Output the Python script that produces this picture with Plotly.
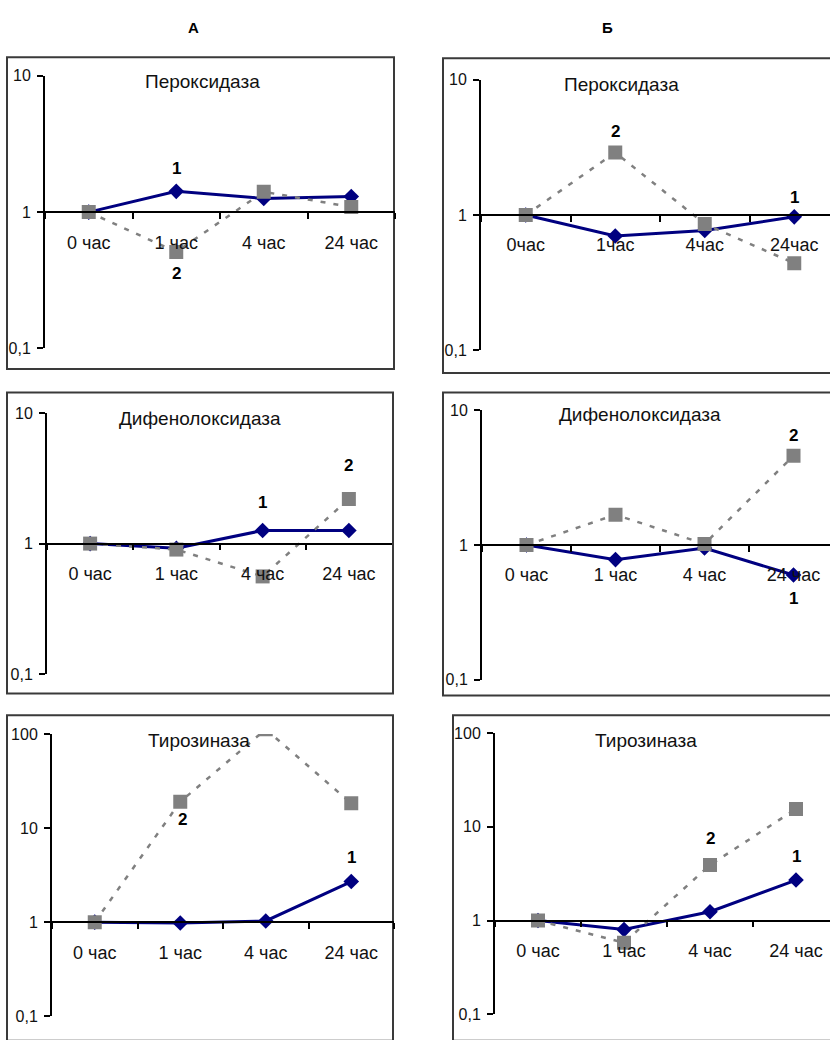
import math
import plotly.graph_objects as go

W, H = 830, 1040

# ---------------- data ----------------
times = ["0 час", "1 час", "4 час", "24 час"]
times_compact = ["0час", "1час", "4час", "24час"]
titles = ["Пероксидаза", "Пероксидаза", "Дифенолоксидаза", "Дифенолоксидаза",
          "Тирозиназа", "Тирозиназа"]
column_labels = ["А", "Б"]
y_ticks_small = [0.1, 1, 10]
y_ticks_small_text = ["0,1", "1", "10"]
y_ticks_big = [0.1, 1, 10, 100]
y_ticks_big_text = ["0,1", "1", "10", "100"]

perox_A_1 = [1.0, 1.42, 1.26, 1.30]
perox_A_2 = [1.0, 0.51, 1.41, 1.09]
perox_B_1 = [1.0, 0.70, 0.77, 0.97]
perox_B_2 = [1.0, 2.9, 0.86, 0.44]
diph_A_1 = [1.0, 0.92, 1.26, 1.26]
diph_A_2 = [1.0, 0.90, 0.56, 2.2]
diph_B_1 = [1.0, 0.78, 0.95, 0.60]
diph_B_2 = [1.0, 1.68, 1.02, 4.6]
tyr_A_1 = [1.0, 0.98, 1.03, 2.7]
tyr_A_2 = [1.0, 19.0, 112.0, 18.3]
tyr_B_1 = [1.0, 0.80, 1.24, 2.7]
tyr_B_2 = [1.0, 0.58, 3.9, 15.5]

series = [
    (perox_A_1, perox_A_2),
    (perox_B_1, perox_B_2),
    (diph_A_1, diph_A_2),
    (diph_B_1, diph_B_2),
    (tyr_A_1, tyr_A_2),
    (tyr_B_1, tyr_B_2),
]
panel_times = [times, times_compact, times, times, times, times]

# ---------------- layout (pixels) ----------------
panels = [
    dict(x0=45, cw=87.5, ytop=69, ybot=346, yr=(-1, 1), frame=(7, 50, 394, 367), tx=202, ty=75),
    dict(x0=481, cw=89.5, ytop=73, ybot=348, yr=(-1, 1), frame=(443, 51, 845, 371), tx=621, ty=78),
    dict(x0=47, cw=86.25, ytop=412, ybot=677, yr=(-1, 1), frame=(7, 391, 393, 697), tx=200, ty=417),
    dict(x0=482, cw=89, ytop=409, ybot=683, yr=(-1, 1), frame=(443, 391, 845, 699), tx=640, ty=413),
    dict(x0=52, cw=85.5, ytop=738, ybot=1025, yr=(-1, 2), frame=(7, 719, 393, 1050), tx=199, ty=745),
    dict(x0=495, cw=86, ytop=737, ybot=1023, yr=(-1, 2), frame=(453, 719, 845, 1050), tx=646, ty=745),
]

# series-number labels: (panel, series index 0/1, point index, yshift, xshift)
num_labels = [
    (0, 0, 1, 23, 0), (0, 1, 1, -22, 0),
    (1, 1, 1, 21, 0), (1, 0, 3, 19, 0),
    (2, 0, 2, 28, 0), (2, 1, 3, 33, 0),
    (3, 1, 3, 20, 0), (3, 0, 3, -24, 0),
    (4, 1, 1, -18, 2), (4, 0, 3, 24, 0),
    (5, 1, 2, 27, 0), (5, 0, 3, 24, 0),
]

FONT = "Liberation Sans, Arial, sans-serif"
NAVY = "#000080"
GRAY = "#808080"

fig = go.Figure()
layout = dict(
    width=W, height=H, margin=dict(l=0, r=0, t=0, b=0),
    paper_bgcolor="white", plot_bgcolor="rgba(0,0,0,0)",
    showlegend=False, shapes=[], annotations=[],
    font=dict(family=FONT, color="#1a1a1a"),
)

for i, (p, (s1, s2)) in enumerate(zip(panels, series)):
    n = i + 1
    xa = "x" if n == 1 else f"x{n}"
    ya = "y" if n == 1 else f"y{n}"
    cats = panel_times[i]
    x1px = min(W, p["x0"] + 4 * p["cw"])
    xend = -0.5 + (x1px - p["x0"]) / p["cw"]
    lo, hi = p["yr"]
    ypos_px = p["ybot"] - (0 - lo) / (hi - lo) * (p["ybot"] - p["ytop"])
    big = hi > 1
    layout[f"xaxis{'' if n == 1 else n}"] = dict(
        domain=[p["x0"] / W, x1px / W], range=[-0.5, xend], type="category",
        anchor="free", position=1 - ypos_px / H,
        showline=True, linecolor="black", linewidth=1.6,
        ticks="outside", ticklen=6, tickwidth=1.5, tickcolor="black",
        tickson="boundaries", showgrid=False, zeroline=False,
        tickfont=dict(size=18, family=FONT, color="#111"),
        ticklabelstandoff=14, fixedrange=True,
    )
    layout[f"yaxis{'' if n == 1 else n}"] = dict(
        domain=[1 - p["ybot"] / H, 1 - p["ytop"] / H], type="log", range=[lo, hi],
        anchor=xa, showline=True, linecolor="black", linewidth=2,
        ticks="outside", ticklen=6, tickwidth=1.5, tickcolor="black",
        tickvals=y_ticks_big if big else y_ticks_small,
        ticktext=y_ticks_big_text if big else y_ticks_small_text,
        showgrid=False, zeroline=False,
        tickfont=dict(size=16, family=FONT, color="#111"),
        ticklabelstandoff=3, fixedrange=True,
    )
    fig.add_trace(go.Scatter(
        x=cats, y=s1, xaxis=xa, yaxis=ya, mode="lines+markers",
        line=dict(color=NAVY, width=3),
        marker=dict(symbol="diamond", size=12, color=NAVY),
    ))
    fig.add_trace(go.Scatter(
        x=cats, y=s2, xaxis=xa, yaxis=ya, mode="lines+markers",
        line=dict(color=GRAY, width=2.5, dash="5px,8px"),
        marker=dict(symbol="square", size=14, color=GRAY),
    ))
    fx0, fy0, fx1, fy1 = p["frame"]
    layout["shapes"].append(dict(
        type="rect", xref="paper", yref="paper",
        x0=fx0 / W, x1=fx1 / W, y0=1 - fy1 / H, y1=1 - fy0 / H,
        line=dict(color="#3a3a3a", width=2), layer="below",
    ))
    layout["annotations"].append(dict(
        text=titles[i], xref="paper", yref="paper",
        x=p["tx"] / W, y=1 - p["ty"] / H, xanchor="center", yanchor="middle",
        showarrow=False, font=dict(size=19, family=FONT, color="#111"),
    ))

for (pi, si, idx, ys, xs) in num_labels:
    n = pi + 1
    xa = "x" if n == 1 else f"x{n}"
    ya = "y" if n == 1 else f"y{n}"
    val = series[pi][si][idx]
    layout["annotations"].append(dict(
        text=f"<b>{si + 1}</b>", xref=xa, yref=ya,
        x=panel_times[pi][idx], y=math.log10(val), yshift=ys, xshift=xs,
        showarrow=False, font=dict(size=17, family=FONT, color="black"),
    ))

for lbl, px in zip(column_labels, [193, 607]):
    layout["annotations"].append(dict(
        text=f"<b>{lbl}</b>", xref="paper", yref="paper",
        x=px / W, y=1 - 20 / H, xanchor="center", yanchor="middle",
        showarrow=False, font=dict(size=15, family=FONT, color="black"),
    ))

fig.update_layout(**layout)

post = (
    "document.body.style.margin='0';"
    "var gd=document.getElementById('{plot_id}');"
    "gd.style.position='absolute';gd.style.left='0px';gd.style.top='0px';"
)
fig.write_html("out.html", post_script=post, config={"displayModeBar": False})
